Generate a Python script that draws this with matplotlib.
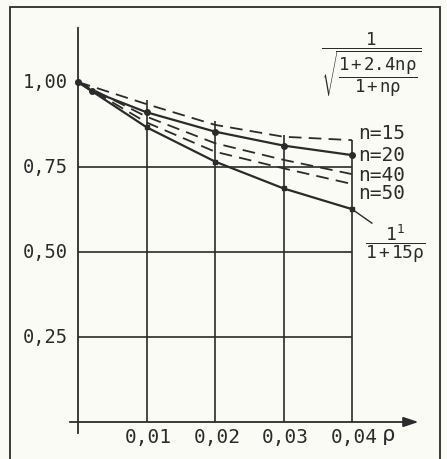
import matplotlib
matplotlib.use("Agg")
import matplotlib.pyplot as plt
from matplotlib.patches import Rectangle

# ----- DATA -----
rho = [0.0, 0.01, 0.02, 0.03, 0.04]
rho_n20 = [0.0, 0.002, 0.01, 0.02, 0.03, 0.04]
n15 = [1.0, 0.935, 0.874, 0.839, 0.829]
n20 = [1.0, 0.974, 0.911, 0.854, 0.813, 0.785]
n40 = [1.0, 0.898, 0.820, 0.771, 0.729]
n50 = [1.0, 0.881, 0.795, 0.746, 0.700]
lower = [1.0, 0.867, 0.766, 0.687, 0.626]

y_ticks = [0.25, 0.50, 0.75, 1.00]
y_tick_labels = ["0,25", "0,50", "0,75", "1,00"]
x_ticks = [0.01, 0.02, 0.03, 0.04]
x_tick_labels = ["0,01", "0,02", "0,03", "0,04"]
vgrid_tops = [0.947, 0.885, 0.844, 0.829]
n_labels = ["n=15", "n=20", "n=40", "n=50"]
n_label_y = [0.850, 0.785, 0.726, 0.671]

# ----- STYLE -----
ink = "#2b2b2b"
paper = "#fbfbf6"
mono = "DejaVu Sans Mono"
plt.rcParams["mathtext.fontset"] = "custom"
plt.rcParams["mathtext.rm"] = mono
plt.rcParams["mathtext.it"] = mono
plt.rcParams["mathtext.sf"] = mono

W, H = 447, 459
fig = plt.figure(figsize=(W / 100, H / 100), dpi=100, facecolor=paper)

# axes placed so that rho=0 -> px 78, 0.04 -> px 352; v=1 -> px 82, v=0 -> px 422
xlim = (-0.006, 0.05)
ylim = (-0.1, 1.2)
px_per_x = (352 - 78) / 0.04
px_per_y = 340.0
left_px = 78 + xlim[0] * px_per_x
right_px = 78 + xlim[1] * px_per_x
bottom_px = 422 - ylim[0] * px_per_y
top_px = 422 - ylim[1] * px_per_y
ax = fig.add_axes([left_px / W, 1 - bottom_px / H,
                   (right_px - left_px) / W, (bottom_px - top_px) / H])
ax.set_xlim(*xlim)
ax.set_ylim(*ylim)
ax.axis("off")
ax.patch.set_alpha(0)

# outer frame
fig.patches.append(Rectangle((10 / W, -0.05), 430 / W, 1 - 7 / H + 0.05,
                             transform=fig.transFigure, fill=False,
                             edgecolor=ink, linewidth=1.3))

# grid
ax.hlines(y_ticks[:3], 0, 0.04, color=ink, linewidth=1.2)
ax.vlines(x_ticks, 0, vgrid_tops, color=ink, linewidth=1.2)

# axes
ax.plot([0, 0], [-0.033, 1.16], color=ink, linewidth=1.3)
ax.annotate("", xy=(0.0497, 0), xytext=(-0.0012, 0),
            arrowprops=dict(arrowstyle="-|>,head_length=0.9,head_width=0.3",
                            color=ink, linewidth=1.3, shrinkA=0, shrinkB=0))

# curves
dash = (0, (7, 4))
ax.plot(rho, n15, color=ink, linewidth=1.3, linestyle=dash)
ax.plot(rho, n40, color=ink, linewidth=1.3, linestyle=dash)
ax.plot(rho, n50, color=ink, linewidth=1.3, linestyle=dash)
ax.plot(rho_n20, n20, color=ink, linewidth=1.6, marker="o", markersize=4)
ax.plot(rho, lower, color=ink, linewidth=1.6, marker="s", markersize=3.5)

# tick labels
for y, lab in zip(y_ticks, y_tick_labels):
    ax.text(-0.0015, y, lab, ha="right", va="center", fontsize=13.5,
            family=mono, color=ink)
for x, lab in zip(x_ticks, x_tick_labels):
    ax.text(x + 0.0003, -0.045, lab, ha="center", va="center", fontsize=14,
            family=mono, color=ink)
ax.text(0.0453, -0.045, r"$\rho$", ha="center", va="center", fontsize=16,
        color=ink)

# series labels
for y, lab in zip(n_label_y, n_labels):
    ax.text(0.0409, y, lab, ha="left", va="center", fontsize=14,
            family=mono, color=ink)

ax.text(0.0428, 1.05, r"$\dfrac{1}{\sqrt{\dfrac{1+2.4n\rho}{1+n\rho}}}$",
        ha="center", va="center", fontsize=12.5, color=ink)
ax.text(0.0463, 0.526, r"$\dfrac{1^{1}}{1+15\rho}$",
        ha="center", va="center", fontsize=13, color=ink)
ax.plot([0.04, 0.0429], [lower[-1], 0.585], color=ink, linewidth=1.0)

fig.savefig("out.png", dpi=100, facecolor=paper)
